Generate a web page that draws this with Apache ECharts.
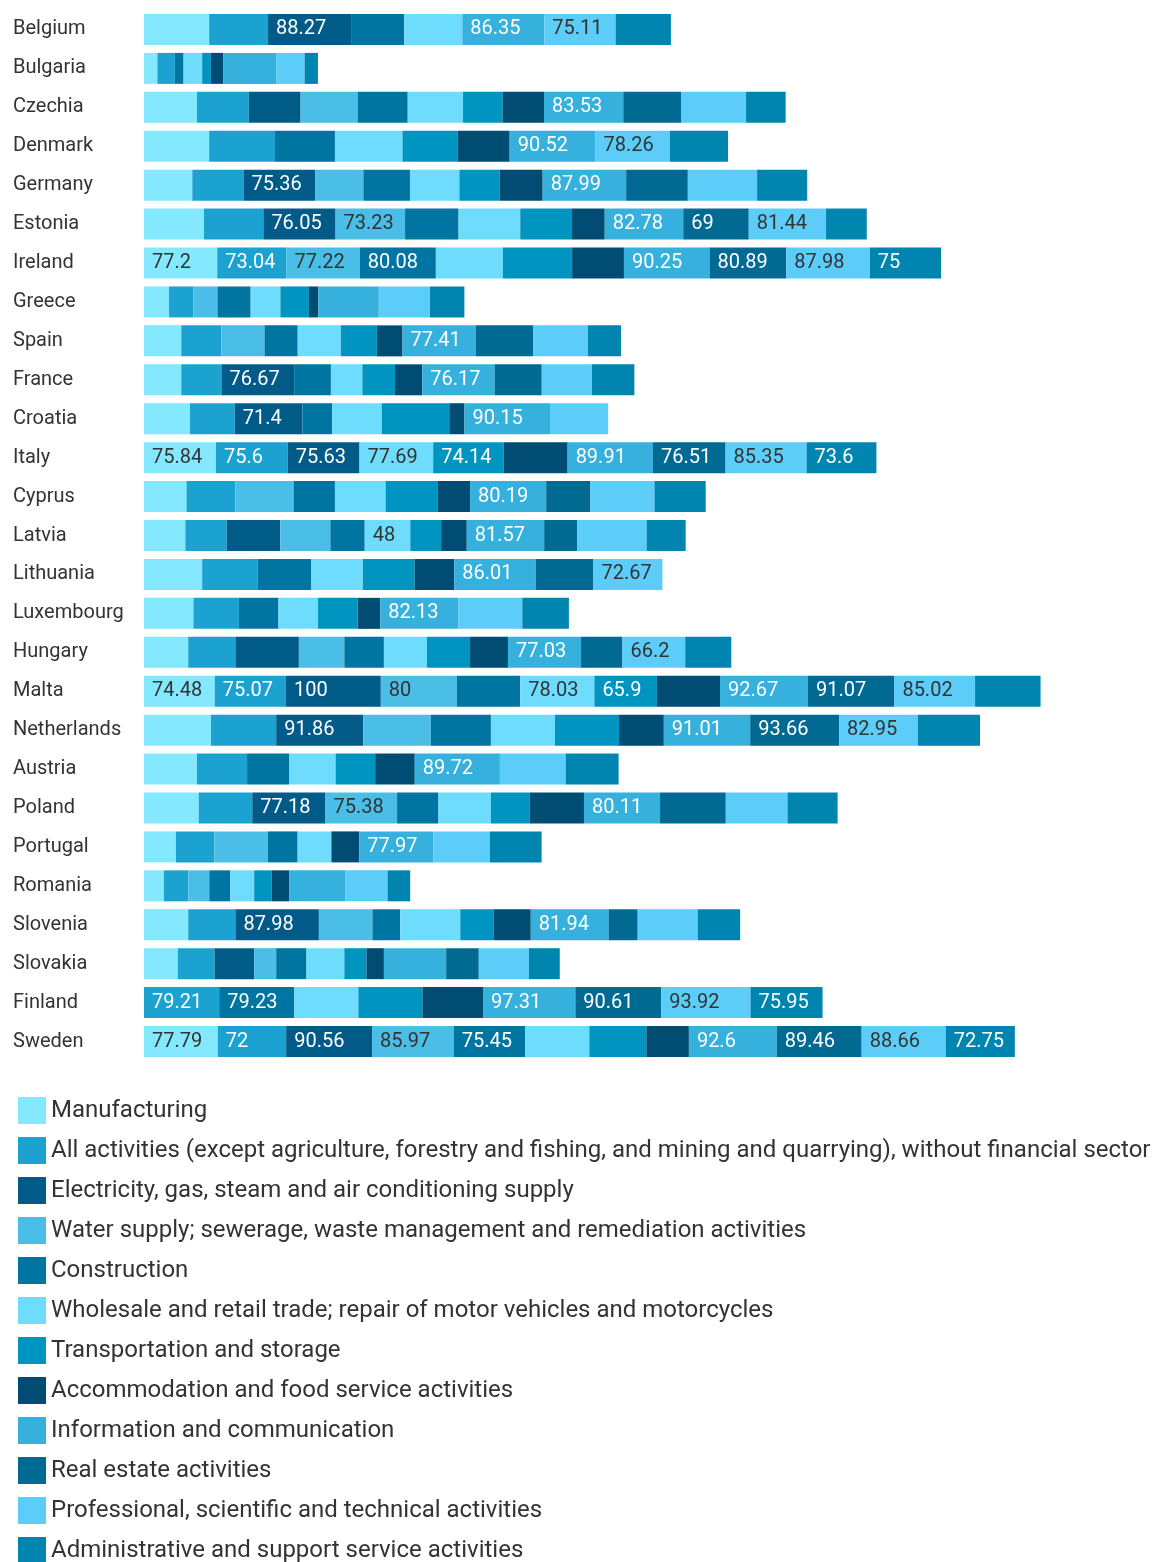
<!DOCTYPE html>
<html>
<head>
<meta charset="utf-8">
<script src="https://cdn.jsdelivr.net/npm/echarts@6/dist/echarts.min.js"></script>
<style>
  html, body { margin: 0; padding: 0; background: #fff; }
  #chart { width: 1162px; height: 1562px; }
</style>
</head>
<body>
<div id="chart"></div>
<script>
const countries = ['Belgium', 'Bulgaria', 'Czechia', 'Denmark', 'Germany', 'Estonia', 'Ireland', 'Greece', 'Spain',
  'France', 'Croatia', 'Italy', 'Cyprus', 'Latvia', 'Lithuania', 'Luxembourg', 'Hungary', 'Malta', 'Netherlands',
  'Austria', 'Poland', 'Portugal', 'Romania', 'Slovenia', 'Slovakia', 'Finland', 'Sweden'];

const seriesNames = [
  'Manufacturing',
  'All activities (except agriculture, forestry and fishing, and mining and quarrying), without financial sector',
  'Electricity, gas, steam and air conditioning supply',
  'Water supply; sewerage, waste management and remediation activities',
  'Construction',
  'Wholesale and retail trade; repair of motor vehicles and motorcycles',
  'Transportation and storage',
  'Accommodation and food service activities',
  'Information and communication',
  'Real estate activities',
  'Professional, scientific and technical activities',
  'Administrative and support service activities'
];

// values per series, in country order (null = no data)
const manufacturing = [68.7, 14.1, 55.8, 68.7, 50.9, 63.2, 77.2, 26.4, 39.3, 39.3, 48.5, 75.84, 44.8, 43.6, 61.3, 52.1, 46.6, 74.48, 70.6, 55.8, 57.7, 33.7, 20.9, 46.6, 35.6, null, 77.79];
const allActivities = [62, 18.4, 54.6, 69.3, 54, 62.6, 73.04, 25.8, 42.3, 42.3, 47.2, 75.6, 51.5, 43.6, 58.3, 47.9, 49.7, 75.07, 68.7, 52.8, 56.4, 40.5, 25.8, 49.7, 38.7, 79.21, 72];
const electricity = [88.27, null, 54.6, null, 75.36, 76.05, null, null, null, 76.67, 71.4, 75.63, null, 56.4, null, null, 66.9, 100, 91.86, null, 77.18, null, null, 87.98, 41.7, null, 90.56];
const water = [null, null, 60.1, null, 50.9, 73.23, 77.22, 25.2, 45.4, null, null, null, 61.3, 52.8, null, null, 47.9, 80, 71.2, null, 75.38, 56.4, 22.1, 56.4, 23.3, null, 85.97];
const construction = [55.2, 9.2, 52.8, 63.2, 49.1, 56.4, 80.08, 35, 35, 38.7, 31.3, null, 43.6, 36.2, 56.4, 41.7, 41.7, 67, 63.2, 44.2, 43.6, 31.3, 22.1, 29.4, 31.9, 79.23, 75.45];
const wholesale = [61.3, 19.6, 58.3, 71.2, 52.1, 65, 70.6, 31.3, 45.4, 33.1, 52.1, 77.69, 53.4, 48, 54.6, 41.7, 45.4, 78.03, 67.5, 49.1, 55.2, 35.6, 25.2, 63.2, 39.9, 67.5, 67.5];
const transport = [null, 9.2, 41.7, 58.3, 42.3, 54.6, 73, 30.1, 38, 34.4, 71.2, 74.14, 54.6, 32.5, 54.6, 41.7, 45.4, 65.9, 67.5, 41.7, 41.1, null, 18.4, 35, 23.3, 67.5, 60.1];
const accommodation = [null, 12.9, 43.6, 54.6, 45.4, 34.4, 54.6, 9.8, 27, 28.8, 16, 67.5, 34.4, 27, 41.7, 23.9, 39.9, 66.5, 47.2, 41.7, 57.1, 29.4, 18.4, 39.3, 18.4, 63.8, 44.8];
const information = [86.35, 56.4, 83.53, 90.52, 87.99, 82.78, 90.25, 63.8, 77.41, 76.17, 90.15, 89.91, 80.19, 81.57, 86.01, 82.13, 77.03, 92.67, 91.01, 89.72, 80.11, 77.97, 59.5, 81.94, 65.6, 97.31, 92.6];
const realEstate = [null, null, 61.3, null, 65, 69, 80.89, null, 60.1, 49.7, null, 76.51, 46.6, 35, 60.7, null, 43.6, 91.07, 93.66, null, 69.3, null, null, 30.7, 34.4, 90.61, 89.46];
const professional = [75.11, 29.4, 68.1, 78.26, 73, 81.44, 87.98, 54, 57.7, 52.8, 61.3, 85.35, 67.5, 73, 72.67, 67.5, 66.2, 85.02, 82.95, 69.3, 65, 59.5, 44.2, 63.2, 52.8, 93.92, 88.66];
const administrative = [58.3, 14.1, 41.7, 61.3, 52.8, 42.9, 75, 36.2, 35, 44.8, null, 73.6, 54, 41.1, null, 49.1, 48.5, 69, 65.6, 55.8, 52.8, 54.6, 23.9, 44.8, 32.5, 75.95, 72.75];

// which segments carry a value label (series index per country)
const labelled = {
  Belgium: [2, 8, 10], Czechia: [8], Denmark: [8, 10], Germany: [2, 8],
  Estonia: [2, 3, 8, 9, 10], Ireland: [0, 1, 3, 4, 8, 9, 10, 11], Spain: [8], France: [2, 8],
  Croatia: [2, 8], Italy: [0, 1, 2, 5, 6, 8, 9, 10, 11], Cyprus: [8], Latvia: [5, 8],
  Lithuania: [8, 10], Luxembourg: [8], Hungary: [8, 10], Malta: [0, 1, 2, 3, 5, 6, 8, 9, 10],
  Netherlands: [2, 8, 9, 10], Austria: [8], Poland: [2, 3, 8], Portugal: [8], Slovenia: [2, 8],
  Finland: [1, 4, 8, 9, 10, 11], Sweden: [0, 1, 2, 3, 4, 8, 9, 10, 11]
};

const seriesValues = [manufacturing, allActivities, electricity, water, construction, wholesale,
  transport, accommodation, information, realEstate, professional, administrative];
const colors = ['#84e9fe', '#1ba2d0', '#005b88', '#4bbee8', '#0075a2', '#6edcfd',
  '#0094c1', '#004c73', '#36b0dc', '#006a93', '#5ccdf9', '#0085b1'];
const darkText = [0, 3, 5, 10];

let chart = echarts.init(document.getElementById('chart'));

let series = seriesValues.map((vals, s) => ({
  name: seriesNames[s],
  type: 'bar',
  stack: 'total',
  barWidth: 31,
  itemStyle: { color: colors[s] },
  label: {
    position: 'insideLeft',
    distance: 8,
    fontSize: 20,
    fontFamily: 'Roboto',
    color: darkText.includes(s) ? '#333' : '#fff'
  },
  data: vals.map((v, i) => ({
    value: v,
    label: { show: v != null && (labelled[countries[i]] || []).includes(s) }
  }))
}));

let option = {
  animation: false,
  textStyle: { fontFamily: 'Roboto' },
  grid: { left: 144, right: 69, top: 10, height: 1051 },
  legend: {
    orient: 'vertical',
    left: 18,
    top: 1097,
    height: 600,
    padding: 0,
    icon: 'rect',
    itemWidth: 28,
    itemHeight: 27,
    itemGap: 13,
    textStyle: { fontSize: 24, color: '#333', fontFamily: 'Roboto' },
    data: seriesNames
  },
  xAxis: {
    type: 'value',
    min: 0,
    max: 1000,
    show: false
  },
  yAxis: {
    type: 'category',
    inverse: true,
    data: countries,
    axisLine: { show: false },
    axisTick: { show: false },
    axisLabel: { align: 'left', margin: 131, fontSize: 20, color: '#333', fontFamily: 'Roboto' }
  },
  series: series
};

option && chart.setOption(option);
</script>
</body>
</html>
